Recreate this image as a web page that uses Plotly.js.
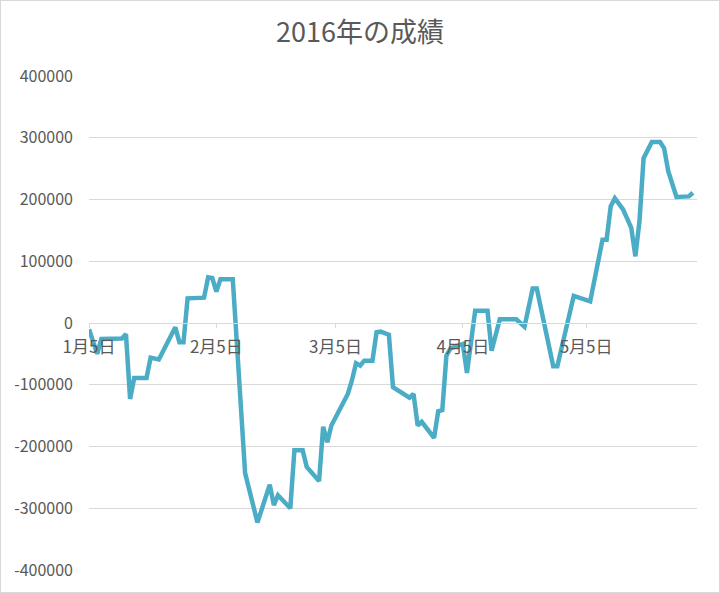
<!DOCTYPE html>
<html>
<head>
<meta charset="utf-8">
<script src="https://cdn.plot.ly/plotly-3.0.1.min.js"></script>
<style>
  body { margin: 0; background: #fff; }
  #chart { width: 720px; height: 593px; outline: 1px solid #d9d9d9; outline-offset: -1px; }
</style>
</head>
<body>
<div id="chart"></div>
<script>
// trade dates and cumulative result (yen)
const dates = [
  '2016-01-05','2016-01-07','2016-01-08','2016-01-13','2016-01-14','2016-01-15','2016-01-16','2016-01-19','2016-01-20','2016-01-22',
  '2016-01-26','2016-01-27','2016-01-28','2016-01-29','2016-02-02','2016-02-03','2016-02-04','2016-02-05','2016-02-06','2016-02-09',
  '2016-02-12','2016-02-15','2016-02-18','2016-02-19','2016-02-20','2016-02-23','2016-02-24','2016-02-26','2016-02-27','2016-03-01',
  '2016-03-02','2016-03-03','2016-03-04','2016-03-08','2016-03-09','2016-03-10','2016-03-11','2016-03-12','2016-03-14','2016-03-15',
  '2016-03-16','2016-03-18','2016-03-19','2016-03-23','2016-03-24','2016-03-25','2016-03-26','2016-03-29','2016-03-30','2016-03-31',
  '2016-04-01','2016-04-02','2016-04-05','2016-04-06','2016-04-08','2016-04-11','2016-04-12','2016-04-14','2016-04-18','2016-04-20',
  '2016-04-22','2016-04-23','2016-04-27','2016-04-28','2016-05-02','2016-05-06','2016-05-09','2016-05-10','2016-05-11','2016-05-12',
  '2016-05-14','2016-05-16','2016-05-17','2016-05-18','2016-05-19','2016-05-21','2016-05-23','2016-05-24','2016-05-25','2016-05-27',
  '2016-05-30','2016-05-31'
];
const results = [
  -10000,-50000,-26000,-25000,-18000,-123000,-89000,-89000,-56000,-59000,
  -7000,-31000,-31000,40000,41000,74000,73000,51000,71000,71000,
  -243000,-323000,-262000,-295000,-279000,-300000,-206000,-206000,-233000,-256000,
  -168000,-193000,-166000,-115000,-93000,-65000,-69000,-61000,-61000,-15000,
  -14000,-19000,-104000,-121000,-115000,-166000,-160000,-186000,-143000,-141000,
  -53000,-41000,-34000,-81000,20000,20000,-45000,6000,6000,-6000,
  56000,56000,-70000,-70000,44000,35000,135000,135000,189000,202000,
  184000,154000,108000,165000,267000,293000,293000,283000,246000,204000,
  205000,211000
];

const xTickVals = ['2016-01-05','2016-02-05','2016-03-05','2016-04-05','2016-05-05'];
const xTickText = ['1月5日','2月5日','3月5日','4月5日','5月5日'];
const yTickVals = [-400000,-300000,-200000,-100000,0,100000,200000,300000,400000];
const yTickText = yTickVals.map(v => String(v));

const txt = '#595959';
const grid = '#d9d9d9';
const font = '"Noto Sans CJK JP", "Noto Sans", sans-serif';

const trace = {
  x: dates, y: results, type: 'scatter', mode: 'lines',
  line: { color: '#4bacc6', width: 4.5 },
  hoverinfo: 'x+y'
};

const layout = {
  width: 720, height: 593,
  paper_bgcolor: 'rgba(0,0,0,0)', plot_bgcolor: '#fff',
  margin: { l: 89, r: 23, t: 76, b: 23 },
  font: { family: font, color: txt },
  showlegend: false,
  title: { text: '2016年の成績', font: { size: 27, color: txt, family: font }, x: 0.5, xanchor: 'center', y: 0.945, yanchor: 'middle' },
  xaxis: {
    type: 'date', range: ['2016-01-05', '2016-06-01'],
    anchor: 'free', position: 0.5,
    showgrid: false, zeroline: false,
    showline: true, linecolor: grid, linewidth: 1,
    ticks: 'outside', ticklen: 4, tickcolor: grid,
    tickmode: 'array', tickvals: xTickVals, ticktext: xTickText,
    tickfont: { size: 17, color: txt }, ticklabelstandoff: 5
  },
  yaxis: {
    range: [-400000, 400000],
    tickmode: 'array', tickvals: yTickVals, ticktext: yTickText,
    showgrid: true, gridcolor: grid, gridwidth: 1,
    zeroline: false, showline: false, ticks: '',
    tickfont: { size: 16, color: txt }, ticklabelstandoff: 15
  }
};

Plotly.newPlot('chart', [trace], layout, { displayModeBar: false, staticPlot: true });
</script>
</body>
</html>
